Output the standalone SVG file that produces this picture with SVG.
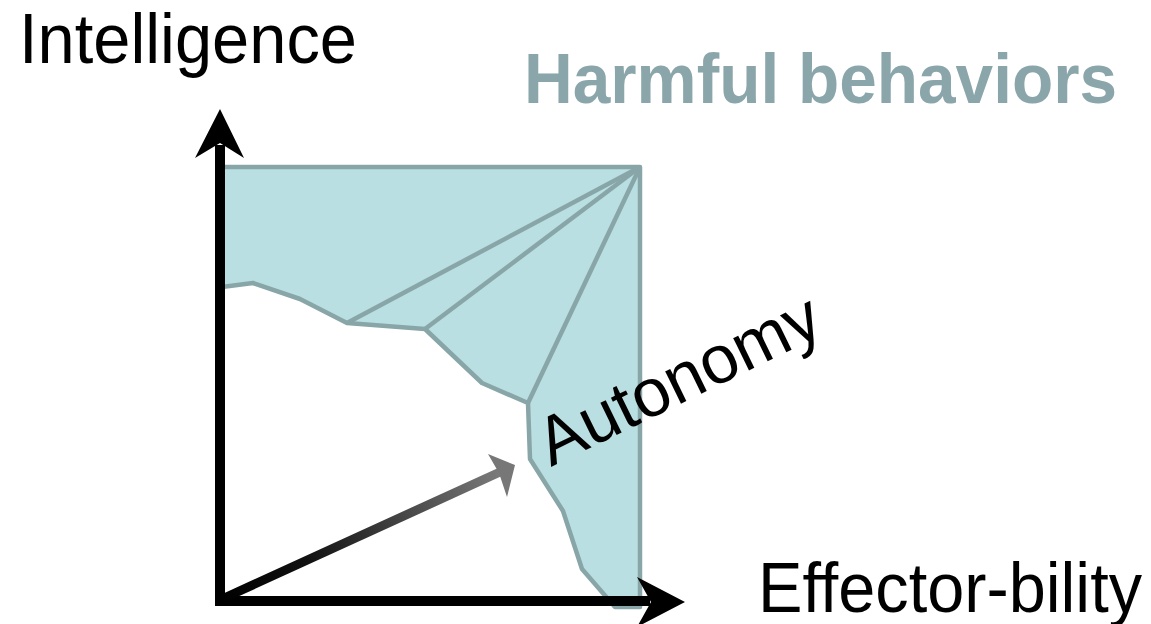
<svg xmlns="http://www.w3.org/2000/svg" width="1151" height="624" viewBox="0 0 1151 624">
<style>
.lbl{font-family:"Liberation Sans",Arial,sans-serif;fill:#000}
.region{fill:#B9DFE2;stroke:#88A6A8;stroke-width:4.5;stroke-linejoin:round}
.div{fill:none;stroke:#88A6A8;stroke-width:4.5}
.axis{stroke:#000;stroke-width:10;fill:none}
</style>
<defs>
<linearGradient id="ag" gradientUnits="userSpaceOnUse" x1="220" y1="600" x2="510" y2="468">
<stop offset="0" stop-color="#000"/>
<stop offset="0.3" stop-color="#111"/>
<stop offset="1" stop-color="#808080"/>
</linearGradient>
</defs>
<g id="harmful-region">
<polygon class="region" points="222,167 640,167 640,607 615,607 582,569 563,511 530,459 528,403 482,383 425,329 347,323 300,299 253,283 222,287"/>
<polyline class="div" points="347,323 640,167"/>
<polyline class="div" points="425,329 640,167"/>
<polyline class="div" points="528,403 640,167"/>
</g>
<g id="connectors">
<line class="axis" x1="220" y1="605" x2="220" y2="145"/>
<polygon points="220,109 244,158 220,143 195,158" fill="#000"/>
<line class="axis" x1="215" y1="601" x2="650" y2="601"/>
<polygon points="685,602 637,577 651,602 637,627" fill="#000"/>
<line x1="222" y1="599" x2="500" y2="472" stroke="url(#ag)" stroke-width="9"/>
<polygon points="515,465 488,454 499,473 507,497" fill="#777"/>
</g>
<g id="intelligence"><text class="lbl" x="19" y="63" font-size="70" textLength="338" lengthAdjust="spacingAndGlyphs">Intelligence</text></g>
<g id="title"><text x="524" y="103" font-family="Liberation Sans,Arial,sans-serif" font-weight="bold" font-size="70" fill="#8BA6AA" textLength="593" lengthAdjust="spacingAndGlyphs">Harmful behaviors</text></g>
<g id="effector"><text class="lbl" x="758" y="612" font-size="70" textLength="384" lengthAdjust="spacingAndGlyphs">Effector-bility</text></g>
<g id="autonomy"><text class="lbl" x="0" y="0" font-size="68" transform="translate(551,467) rotate(-26)">Autonomy</text></g>
</svg>
